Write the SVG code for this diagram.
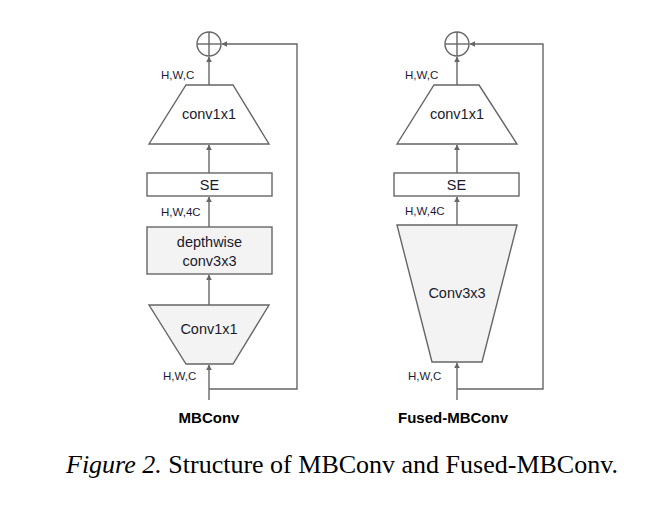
<svg xmlns="http://www.w3.org/2000/svg" width="671" height="507" viewBox="0 0 671 507">
<defs>
<marker id="ah" viewBox="0 0 10 10" refX="9" refY="5" markerWidth="6" markerHeight="6" orient="auto" markerUnits="userSpaceOnUse">
<path d="M0,0 L10,5 L0,10 z" fill="#666"/>
</marker>
<style>
.ln{stroke:#666;stroke-width:1.4;fill:none}
.sh{stroke:#666;stroke-width:1.4}
.w{fill:#fff}
.g{fill:#f3f3f3}
.t{font-family:"Liberation Sans",Arial,sans-serif;font-size:14.5px;fill:#1a1a2e;text-anchor:middle}
.s{font-family:"Liberation Sans",Arial,sans-serif;font-size:11.5px;fill:#1a1a3a}
.b{font-family:"Liberation Sans",Arial,sans-serif;font-size:15px;font-weight:bold;fill:#000;text-anchor:middle}
.cap{font-family:"Liberation Serif","Times New Roman",serif;font-size:26px;fill:#000}
</style>
</defs>
<rect width="671" height="507" fill="#fff"/>

<g id="connectors">
<!-- MBConv -->
<line class="ln" x1="209" y1="400" x2="209" y2="365" marker-end="url(#ah)"/>
<line class="ln" x1="209" y1="305" x2="209" y2="275" marker-end="url(#ah)"/>
<line class="ln" x1="209" y1="227" x2="209" y2="197" marker-end="url(#ah)"/>
<line class="ln" x1="209" y1="173" x2="209" y2="145" marker-end="url(#ah)"/>
<line class="ln" x1="209" y1="85" x2="209" y2="57" marker-end="url(#ah)"/>
<polyline class="ln" points="209,389 297,389 297,44 222,44" marker-end="url(#ah)"/>
<!-- Fused-MBConv -->
<line class="ln" x1="457" y1="400" x2="457" y2="363" marker-end="url(#ah)"/>
<line class="ln" x1="457" y1="225" x2="457" y2="197" marker-end="url(#ah)"/>
<line class="ln" x1="457" y1="173" x2="457" y2="145" marker-end="url(#ah)"/>
<line class="ln" x1="457" y1="85" x2="457" y2="57" marker-end="url(#ah)"/>
<polyline class="ln" points="457,389 543,389 543,44 470,44" marker-end="url(#ah)"/>
</g>

<g id="mb-add">
<circle class="sh w" cx="209" cy="44" r="12"/>
<line class="ln" x1="197" y1="44" x2="221" y2="44"/>
<line class="ln" x1="209" y1="32" x2="209" y2="56"/>
</g>
<g id="mb-conv1x1-top">
<polygon class="sh w" points="186,85 233,85 269,144 149,144"/>
<text class="t" x="209" y="119">conv1x1</text>
</g>
<g id="mb-se">
<rect class="sh w" x="147" y="173" width="125" height="23"/>
<text class="t" x="209.5" y="190">SE</text>
</g>
<g id="mb-dw">
<rect class="sh g" x="147" y="227" width="125" height="47"/>
<text class="t" x="209.5" y="247">depthwise</text>
<text class="t" x="209.5" y="266">conv3x3</text>
</g>
<g id="mb-conv1x1-bot">
<polygon class="sh g" points="149,305 269,305 233,364 186,364"/>
<text class="t" x="209" y="334">Conv1x1</text>
</g>
<g id="mb-labels">
<text class="s" x="161" y="79">H,W,C</text>
<text class="s" x="161" y="216">H,W,4C</text>
<text class="s" x="163" y="380">H,W,C</text>
<text class="b" x="209" y="423">MBConv</text>
</g>

<g id="fu-add">
<circle class="sh w" cx="457" cy="44" r="12"/>
<line class="ln" x1="445" y1="44" x2="469" y2="44"/>
<line class="ln" x1="457" y1="32" x2="457" y2="56"/>
</g>
<g id="fu-conv1x1-top">
<polygon class="sh w" points="434,85 479,85 517,144 397,144"/>
<text class="t" x="457" y="119">conv1x1</text>
</g>
<g id="fu-se">
<rect class="sh w" x="394" y="173" width="125" height="23"/>
<text class="t" x="456.5" y="190">SE</text>
</g>
<g id="fu-conv3x3">
<polygon class="sh g" points="397,225 517,225 482,362 432,362"/>
<text class="t" x="457" y="298">Conv3x3</text>
</g>
<g id="fu-labels">
<text class="s" x="405" y="79">H,W,C</text>
<text class="s" x="405" y="215">H,W,4C</text>
<text class="s" x="408" y="380">H,W,C</text>
<text class="b" x="453" y="423">Fused-MBConv</text>
</g>

<text class="cap" x="66" y="473"><tspan font-style="italic">Figure 2.</tspan> Structure of MBConv and Fused-MBConv.</text>
</svg>
